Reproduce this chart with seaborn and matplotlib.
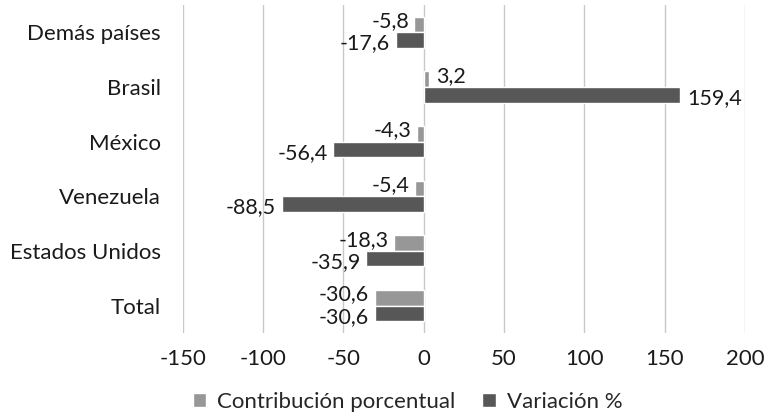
import pandas as pd
import matplotlib
matplotlib.use("Agg")
import matplotlib.pyplot as plt
import seaborn as sns

paises = ["Demás países", "Brasil", "México", "Venezuela", "Estados Unidos", "Total"]
contribucion = [-5.8, 3.2, -4.3, -5.4, -18.3, -30.6]
variacion = [-17.6, 159.4, -56.4, -88.5, -35.9, -30.6]
series = ["Contribución porcentual", "Variación %"]
colores = ["#979797", "#575757"]

sns.set_theme(style="white")
plt.rcParams["font.family"] = ["Lato", "DejaVu Sans"]
plt.rcParams["axes.unicode_minus"] = False

df = pd.DataFrame({
    "pais": paises * 2,
    "valor": contribucion + variacion,
    "serie": [series[0]] * len(paises) + [series[1]] * len(paises),
})

fig = plt.figure(figsize=(7.65, 4.15), dpi=100)
ax = fig.add_axes([0.239, 0.198, 0.735, 0.79])
sns.barplot(data=df, x="valor", y="pais", hue="serie", orient="h",
            palette=colores, width=0.57, ax=ax, saturation=1, legend=True)

ax.set_xlim(-150, 200)
ax.set_xticks(range(-150, 201, 50))
ax.grid(axis="x", color="#c8c8c8", linewidth=1)
ax.set_axisbelow(True)
for s in ax.spines.values():
    s.set_visible(False)
ax.set_xlabel("")
ax.set_ylabel("")
ax.tick_params(axis="both", length=0, labelsize=16, colors="#1a1a1a")
ax.tick_params(axis="x", pad=12)
ax.tick_params(axis="y", pad=16)

# etiquetas de datos
for cont, (vals, dy) in zip(ax.containers, [(contribucion, -2.5), (variacion, 2.5)]):
    for bar, v in zip(cont, vals):
        yc = bar.get_y() + bar.get_height() / 2
        txt = f"{v:.1f}".replace(".", ",")
        if v < 0:
            ax.annotate(txt, (v, yc), xytext=(-4, -dy), textcoords="offset points",
                        ha="right", va="center", fontsize=15.5, color="#1a1a1a")
        else:
            ax.annotate(txt, (v, yc), xytext=(5, -dy), textcoords="offset points",
                        ha="left", va="center", fontsize=15.5, color="#1a1a1a")

ax.legend(loc="upper center", bbox_to_anchor=(0.40, -0.12), ncol=2, frameon=False,
          fontsize=16, handlelength=0.6, handleheight=0.6, columnspacing=1.2,
          handletextpad=0.5)

fig.savefig("out.png", dpi=100)
